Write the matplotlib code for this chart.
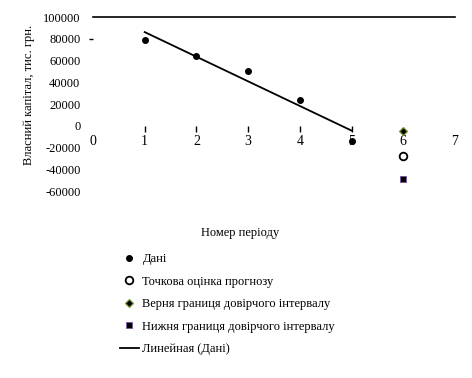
import numpy as np
import matplotlib
matplotlib.use("Agg")
import matplotlib.pyplot as plt

plt.rcParams['font.family'] = ['Liberation Serif', 'DejaVu Serif']

periods = [1, 2, 3, 4, 5]
capital = [79000, 64500, 50700, 24000, -14000]
forecast_x = [6]
point_est = [-27400]
upper_bound = [-5200]
lower_bound = [-48800]
x_ticks = [0, 1, 2, 3, 4, 5, 6, 7]
y_ticks = [-60000, -40000, -20000, 0, 20000, 40000, 60000, 80000, 100000]

fig = plt.figure(figsize=(4.72, 3.78), dpi=100)
ax = fig.add_axes([0.197, 0.4947, 0.767, 0.4603])

fs = 9
ax.plot(periods, capital, 'o', color='black', markersize=4, label='Дані', zorder=3)
ax.plot(forecast_x, point_est, 'o', markerfacecolor='white', markeredgecolor='black',
        markersize=5.5, markeredgewidth=1.3, label='Точкова оцінка прогнозу', zorder=3)
ax.plot(forecast_x, upper_bound, 'D', markerfacecolor='black', markeredgecolor='#7a9a3a',
        markersize=4.5, markeredgewidth=0.9, label='Верня границя довірчого інтервалу', zorder=3)
ax.plot(forecast_x, lower_bound, 's', markerfacecolor='black', markeredgecolor='#7b5aa0',
        markersize=5, markeredgewidth=0.7, label='Нижня границя довірчого інтервалу', zorder=3)

coef = np.polyfit(periods, capital, 1)
xs = np.array([periods[0], periods[-1]])
ax.plot(xs, np.polyval(coef, xs), '-', color='black', linewidth=1.3,
        label='Линейная (Дані)', zorder=2)

ax.set_xlim(0, 7)
ax.set_ylim(-60000, 100000)
ax.set_yticks(y_ticks)
ax.set_yticklabels([str(v) for v in y_ticks], fontsize=fs)
ax.set_xticks(x_ticks)
ax.set_xticklabels([str(v) for v in x_ticks], fontsize=fs)
ax.xaxis.remove_overlapping_locs = False
ax.yaxis.remove_overlapping_locs = False
ax.set_xticks(periods, minor=True)
ax.set_yticks([80000], minor=True)

for s in ['left', 'right', 'bottom']:
    ax.spines[s].set_visible(False)
ax.spines['top'].set_linewidth(1.2)
ax.spines['bottom'].set_position(('data', 0))
ax.tick_params(axis='y', which='major', length=0, pad=9)
ax.tick_params(axis='y', which='minor', length=3, direction='out', width=1)
ax.tick_params(axis='x', which='major', length=0, pad=7)
ax.tick_params(axis='x', which='minor', length=4, direction='out', width=1)
ax.set_facecolor('none')

fig.text(0.508, 0.384, 'Номер періоду', ha='center', va='center', fontsize=fs)
fig.text(0.062, 0.749, 'Власний капітал, тис. грн.', ha='center', va='center',
         rotation=90, fontsize=fs)

handles, labels = ax.get_legend_handles_labels()
fig.legend(handles, labels, loc='upper left', bbox_to_anchor=(0.254, 0.331),
           frameon=False, fontsize=fs, numpoints=1, handlelength=1.5,
           handletextpad=0.3, labelspacing=0.85, borderpad=0, borderaxespad=0)

fig.savefig('out.png', dpi=100)
